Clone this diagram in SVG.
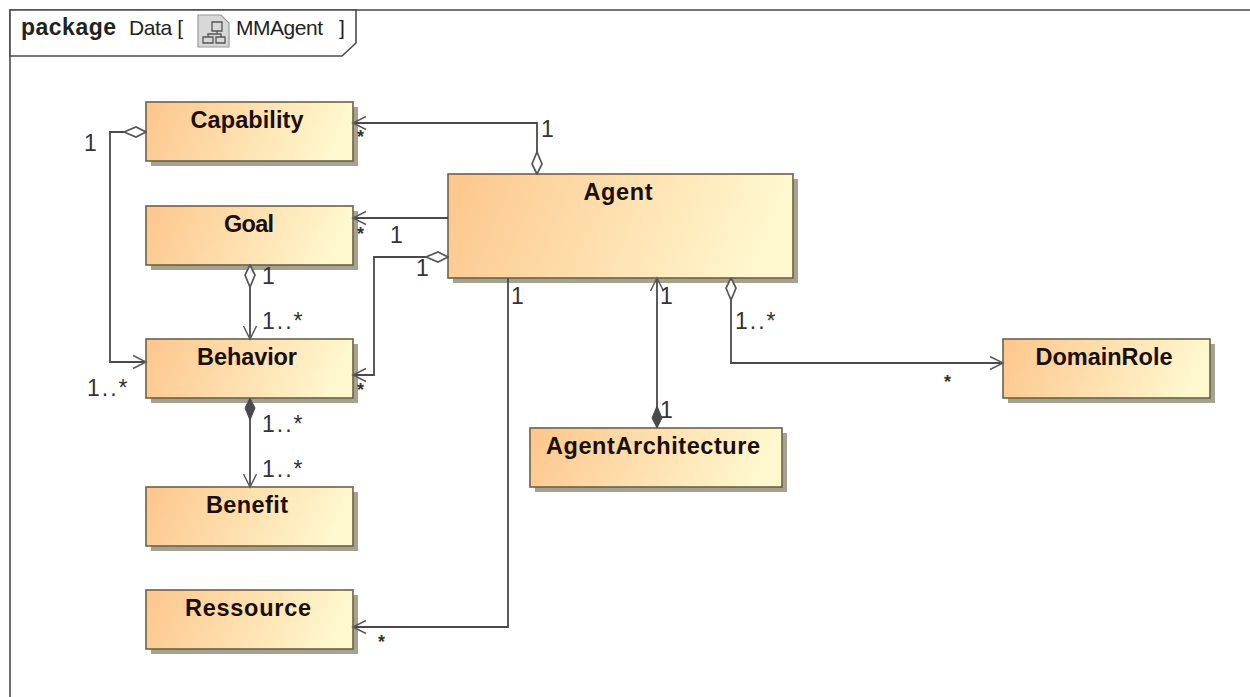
<svg xmlns="http://www.w3.org/2000/svg" width="1250" height="697" viewBox="0 0 1250 697">
<style>
text{font-family:"Liberation Sans",Arial,sans-serif;fill:#222}
.n{font-weight:bold;font-size:23.5px;text-anchor:middle;fill:#1a0f0a}
.m{font-size:23px;fill:#333}
.s{font-size:18px;font-weight:bold;fill:#333}
.l{letter-spacing:2px}
.box{fill:url(#g);stroke:#6b6248;stroke-width:1.6}
.sh{fill:#a5a28f}
.c{fill:none;stroke:#4a4a4a;stroke-width:1.8}
.frame{fill:#fff;stroke:#4a4a4a;stroke-width:1.6}
</style>
<defs>
<linearGradient id="g" x1="0" y1="0" x2="1" y2="0.12"><stop offset="0" stop-color="#fdc68c"/><stop offset="1" stop-color="#fff8cf"/></linearGradient>
<marker id="open" markerWidth="16" markerHeight="16" refX="14" refY="8" orient="auto" markerUnits="userSpaceOnUse"><path d="M1 1.500L14 8L1 14.500" fill="none" stroke="#5a5a5a" stroke-width="1.500"/></marker>
<marker id="od" markerWidth="26" markerHeight="14" refX="1" refY="7" orient="auto" markerUnits="userSpaceOnUse"><path d="M1 7L11 2L23 7L11 12z" fill="#fff" stroke="#555" stroke-width="1.700"/></marker>
<marker id="fd" markerWidth="26" markerHeight="14" refX="1" refY="7" orient="auto" markerUnits="userSpaceOnUse"><path d="M1 7L11 2L23 7L11 12z" fill="#4a4a4a" stroke="#4a4a4a"/></marker>
</defs>
<rect width="1250" height="697" fill="#fff"/>
<g id="frame">
<path class="frame" d="M10 697V10H1250"/>
<path class="frame" d="M10 10H356V43L342 56H10z"/>
<text x="21" y="35" font-weight="bold" font-size="23" textLength="95" fill="#111">package</text>
<text x="129" y="35" font-size="21" textLength="54">Data [</text>
<path d="M198 15H221L229 23V47H198z" fill="#d8d8d8" stroke="#999" stroke-width="1.200"/>
<path d="M212 22h10v9h-10zM203 37h10v6h-10zM216 37h9v6h-9zM217 31v3M208 37v-3h13v3" fill="none" stroke="#555" stroke-width="1.300"/>
<text x="236" y="35" font-size="21" textLength="87">MMAgent</text>
<text x="339" y="35" font-size="21">]</text>
</g>
<g id="capability"><rect class="sh" x="151" y="107" width="207" height="59"/><rect class="box" x="146" y="102" width="207" height="59"/><text class="n" x="247" y="128" textLength="113">Capability</text></g>
<g id="goal"><rect class="sh" x="151" y="211" width="207" height="59"/><rect class="box" x="146" y="206" width="207" height="59"/><text class="n" x="249" y="232" textLength="50">Goal</text></g>
<g id="behavior"><rect class="sh" x="151" y="344" width="207" height="59"/><rect class="box" x="146" y="339" width="207" height="59"/><text class="n" x="247" y="365" textLength="100">Behavior</text></g>
<g id="benefit"><rect class="sh" x="151" y="492" width="207" height="59"/><rect class="box" x="146" y="487" width="207" height="59"/><text class="n" x="247" y="513" textLength="82">Benefit</text></g>
<g id="ressource"><rect class="sh" x="151" y="595" width="207" height="59"/><rect class="box" x="146" y="590" width="207" height="59"/><text class="n" x="248" y="616" textLength="126">Ressource</text></g>
<g id="agent"><rect class="sh" x="453" y="179" width="345" height="104"/><rect class="box" x="448" y="174" width="345" height="104"/><text class="n" x="618" y="200" textLength="69">Agent</text></g>
<g id="agentarchitecture"><rect class="sh" x="535" y="433" width="252" height="59"/><rect class="box" x="530" y="428" width="252" height="59"/><text class="n" x="653" y="454" textLength="214">AgentArchitecture</text></g>
<g id="domainrole"><rect class="sh" x="1008" y="344" width="207" height="59"/><rect class="box" x="1003" y="339" width="207" height="59"/><text class="n" x="1104" y="365" textLength="137">DomainRole</text></g>
<g id="connectors">
<path class="c" marker-start="url(#od)" marker-end="url(#open)" d="M146 132H110V362H146"/>
<path class="c" marker-start="url(#od)" marker-end="url(#open)" d="M537 174V123H353"/>
<path class="c" marker-end="url(#open)" d="M448 218H353"/>
<path class="c" marker-start="url(#od)" marker-end="url(#open)" d="M448 257H374V375H353"/>
<path class="c" marker-start="url(#od)" marker-end="url(#open)" d="M250 265V339"/>
<path class="c" marker-start="url(#fd)" marker-end="url(#open)" d="M250 398V487"/>
<path class="c" marker-end="url(#open)" d="M508 278V627H353"/>
<path class="c" marker-start="url(#fd)" marker-end="url(#open)" d="M657 428V278"/>
<path class="c" marker-start="url(#od)" marker-end="url(#open)" d="M731 278V363H1003"/>
<text class="m" x="84" y="151">1</text>
<text class="s" x="357" y="143">*</text>
<text class="m" x="541" y="137">1</text>
<text class="s" x="357" y="240">*</text>
<text class="m" x="390" y="243">1</text>
<text class="m" x="416" y="276">1</text>
<text class="m" x="262" y="284">1</text>
<text class="m l" x="262" y="329">1..*</text>
<text class="m l" x="87" y="396">1..*</text>
<text class="s" x="357" y="396">*</text>
<text class="m l" x="262" y="432">1..*</text>
<text class="m l" x="262" y="477">1..*</text>
<text class="m" x="511" y="304">1</text>
<text class="m" x="660" y="304">1</text>
<text class="m l" x="735" y="329">1..*</text>
<text class="m" x="660" y="418">1</text>
<text class="s" x="944" y="388">*</text>
<text class="s" x="378" y="648">*</text>
</g>
</svg>
